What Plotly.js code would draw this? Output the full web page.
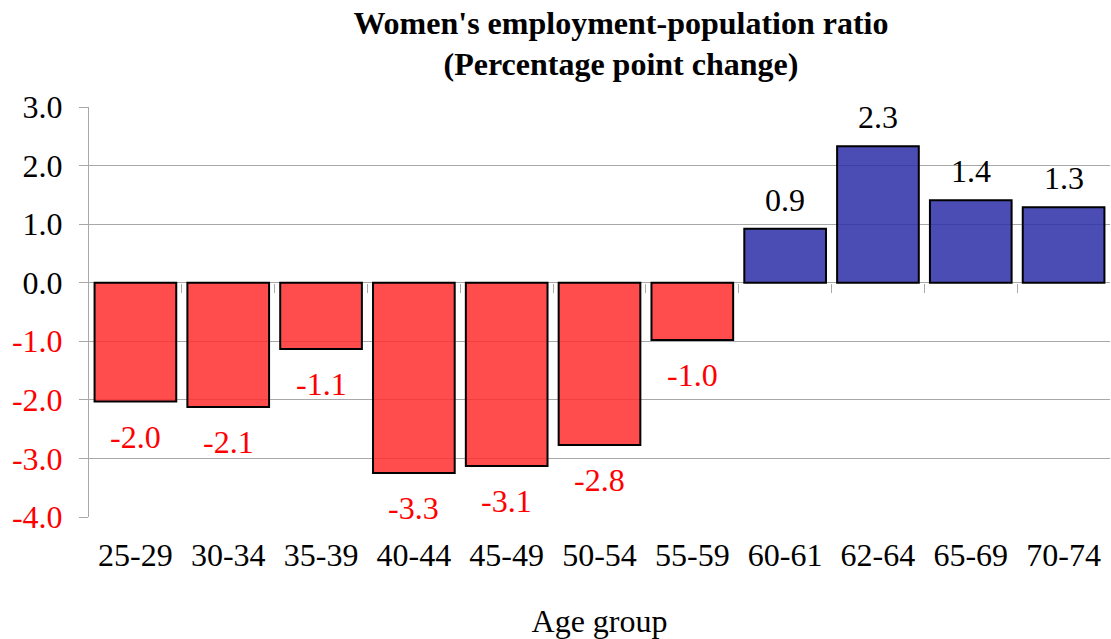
<!DOCTYPE html>
<html><head><meta charset="utf-8">
<script src="https://cdn.plot.ly/plotly-3.0.1.min.js"></script>
<style>html,body{margin:0;padding:0;background:#fff}#chart{width:1111px;height:639px}</style>
</head><body><div id="chart"></div>
<script>
const categories = ["25-29","30-34","35-39","40-44","45-49","50-54","55-59","60-61","62-64","65-69","70-74"];
const values = [-2.03, -2.12, -1.13, -3.25, -3.13, -2.77, -0.98, 0.92, 2.33, 1.41, 1.29];
const labels = ["-2.0","-2.1","-1.1","-3.3","-3.1","-2.8","-1.0","0.9","2.3","1.4","1.3"];
const yTicks = [3, 2, 1, 0, -1, -2, -3, -4];

const RED = "rgba(255,46,46,0.85)";
const BLUE = "rgba(43,46,168,0.85)";
const FONT = "Liberation Serif, Times New Roman, serif";

const barColors = values.map(v => v < 0 ? RED : BLUE);
const yTickText = yTicks.map(v => v < 0 ? '<span style="color:#ff0000">' + v.toFixed(1) + '</span>' : v.toFixed(1));

const trace = {
  type: "bar",
  x: categories,
  y: values,
  marker: {color: barColors, line: {color: "#000", width: 2}},
  hoverinfo: "none"
};

const valueLabels = categories.map((c, i) => ({
  x: c, y: values[i], xref: "x", yref: "y",
  text: labels[i], showarrow: false,
  yanchor: "middle", yshift: values[i] < 0 ? -35 : 29,
  font: {family: FONT, size: 32, color: values[i] < 0 ? "#ff0000" : "#000000"}
}));

const boundaries = categories.slice(0, -1).map((c, i) => i + 0.5);
const tickTrace = {
  type: "scatter", x: [0], y: [0], xaxis: "x2", mode: "markers",
  marker: {opacity: 0}, showlegend: false, hoverinfo: "none"
};

const layout = {
  width: 1111, height: 639,
  margin: {l: 89, r: 1, t: 107, b: 122},
  paper_bgcolor: "#fff", plot_bgcolor: "#fff",
  showlegend: false,
  bargap: 0.12,
  font: {family: FONT, color: "#000", size: 32},
  title: {
    text: "<b>Women's employment-population ratio<br>(Percentage point change)</b>",
    font: {family: FONT, size: 32, color: "#000"},
    x: 0.521, xref: "paper", xanchor: "center",
    y: 0.947, yref: "container", yanchor: "middle"
  },
  annotations: valueLabels,
  xaxis: {
    type: "category", categoryarray: categories,
    range: [-0.5, 10.5],
    showgrid: false, zeroline: false, showline: false, ticks: "",
    ticklabelstandoff: 16,
    tickfont: {family: FONT, size: 32, color: "#000"},
    title: {text: "Age group", font: {family: FONT, size: 32, color: "#000"}, standoff: 37},
    fixedrange: true
  },
  xaxis2: {
    overlaying: "x", anchor: "free", position: 234/410,
    range: [-0.5, 10.5], tickmode: "array", tickvals: boundaries,
    ticks: "outside", ticklen: 9, tickcolor: "#aaa", tickwidth: 1,
    showticklabels: false, showgrid: false, zeroline: false, showline: false
  },
  yaxis: {
    range: [-4, 3],
    tickmode: "array", tickvals: yTicks, ticktext: yTickText,
    showgrid: true, gridcolor: "#a8a8a8", gridwidth: 1,
    zeroline: true, zerolinecolor: "#a8a8a8", zerolinewidth: 1,
    showline: true, linecolor: "#a8a8a8", linewidth: 1,
    ticks: "outside", ticklen: 9, tickcolor: "#a8a8a8",
    ticklabelstandoff: 10,
    tickfont: {family: FONT, size: 32, color: "#000"},
    fixedrange: true
  }
};

Plotly.newPlot("chart", [trace, tickTrace], layout, {displayModeBar: false, staticPlot: true});
</script>
</body></html>
